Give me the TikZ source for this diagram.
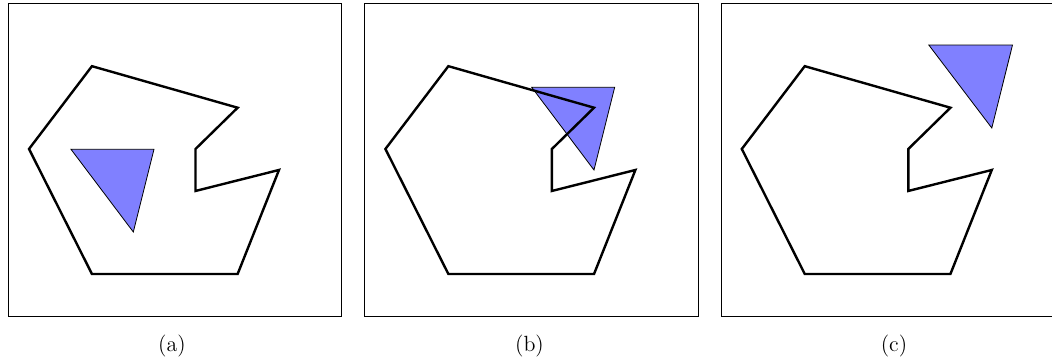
\documentclass[tikz,border=0pt]{standalone}
\usepackage{tikz}
\usetikzlibrary{positioning, calc}

\begin{document}
\begin{tikzpicture}[
        riquadro/.style={thin},
        ostacolo/.style={line width=1.2pt, line join=miter},
        triangolo/.style={fill=blue!50, draw=black, thin},
        didascalia/.style={inner sep=0pt, font=\fontsize{11}{13}\selectfont}
    ]
        \useasboundingbox (-0.146,-0.826) rectangle (18.341,5.553);
        %disegno riquadri
        \draw[riquadro] (0,0) rectangle (5.86,5.495);
        \draw[riquadro] (6.263,0) rectangle ++(5.86,5.495);
        \draw[riquadro] (12.526,0) rectangle ++(5.86,5.495);
        %disegno ostacolo (a)
        \draw[ostacolo] (1.47,4.39)--(4.03,3.66)--(3.29,2.935)--(3.29,2.197)--(4.757,2.566)--(4.03,0.738)--(1.47,0.738)--(0.364,2.935)--cycle;
        \draw[triangolo] (1.102,2.929)--(2.56,2.929)--(2.197,1.476)--cycle;
        %%%%
        \begin{scope}[xshift=6.263cm]
        \draw[triangolo] (2.935,4.019)--(4.393,4.019)--(4.029,2.566)--cycle;
        \draw[ostacolo] (1.47,4.39)--(4.03,3.66)--(3.29,2.935)--(3.29,2.197)--(4.757,2.566)--(4.03,0.738)--(1.47,0.738)--(0.364,2.935)--cycle;
        \end{scope}
        %%%%
        \begin{scope}[xshift=12.526cm]
        \draw[ostacolo] (1.47,4.39)--(4.03,3.66)--(3.29,2.935)--(3.29,2.197)--(4.757,2.566)--(4.03,0.738)--(1.47,0.738)--(0.364,2.935)--cycle;
        \draw[triangolo] (3.65,4.762)--(5.121,4.762)--(4.757,3.304)--cycle;
        \end{scope}
        %didascalie
        \node[didascalia] (lab a) at (2.876,-0.527) {(a)};
        \node[didascalia] (lab b) at (9.159,-0.527) {(b)};
        \node[didascalia] (lab c) at (15.564,-0.527) {(c)};
    \end{tikzpicture}
\end{document}
